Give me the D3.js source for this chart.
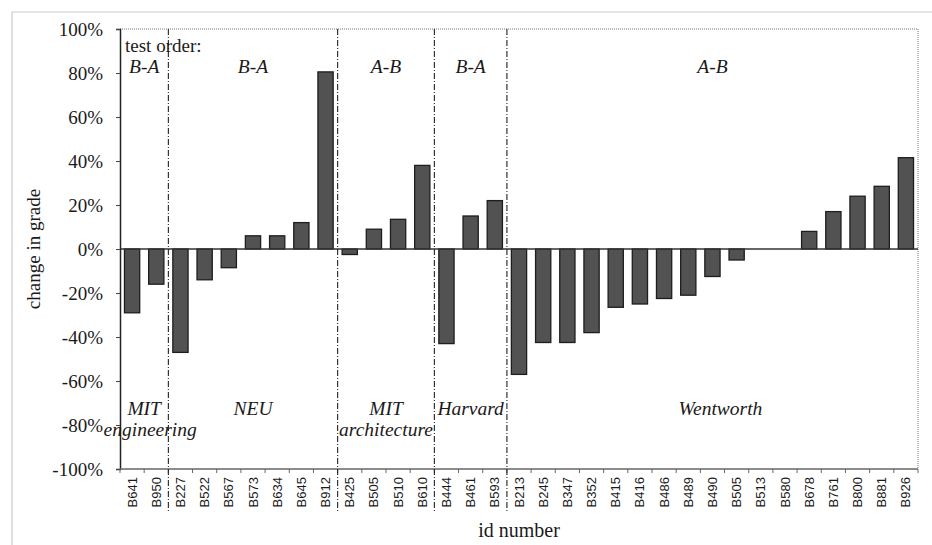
<!DOCTYPE html>
<html lang="en">
<head>
    <meta charset="UTF-8">
    <title>Change in grade by id number</title>
    <script src="https://d3js.org/d3.v7.min.js"></script>
    <style>
        body {
            margin: 0;
            background: #fff;
        }
        svg text {
            font-family: "Liberation Serif", "DejaVu Serif", serif;
            fill: #1a1a1a;
        }
        .tick-y {
            font-size: 19px;
        }
        .tick-x {
            font-family: "Liberation Sans", Arial, sans-serif !important;
            font-size: 13px;
        }
        .grp {
            font-style: italic;
            font-size: 19.5px;
        }
        .axis-title {
            font-size: 19px;
        }
    </style>
</head>
<body>
    <div id="chart"></div>

    <script>
        // data
        const ids = ["B641", "B950",
            "B227", "B522", "B567", "B573", "B634", "B645", "B912",
            "B425", "B505", "B510", "B610",
            "B444", "B461", "B593",
            "B213", "B245", "B347", "B352", "B415", "B416", "B486", "B489", "B490",
            "B505 ", "B513", "B580", "B678", "B761", "B800", "B881", "B926"];
        const changes = [-29, -16,
            -47, -14, -8.5, 6, 6, 12, 80.5,
            -2.5, 9, 13.5, 38,
            -43, 15, 22,
            -57, -42.5, -42.5, -38, -26.5, -25, -22.5, -21, -12.5,
            -5, 0, 0, 8, 17, 24, 28.5, 41.5];
        const groupNames = [["MIT", "engineering"], ["NEU"], ["MIT", "architecture"], ["Harvard"], ["Wentworth"]];
        const groupOrders = ["B-A", "B-A", "A-B", "B-A", "A-B"];
        const groupSizes = [2, 7, 4, 3, 17];
        const yTicks = [-100, -80, -60, -40, -20, 0, 20, 40, 60, 80, 100];

        const width = 932, height = 545;
        const margin = {left: 120, right: 14, top: 29, bottom: 76};

        const svg = d3.select("#chart").append("svg")
            .attr("width", width)
            .attr("height", height);

        // faint outer frame of the scanned figure
        svg.append("path")
            .attr("d", `M12,${height} L12,12 L${width},12`)
            .attr("fill", "none")
            .attr("stroke", "#ccc")
            .attr("stroke-width", 1.2);

        const x = d3.scaleBand()
            .domain(ids)
            .range([margin.left, width - margin.right])
            .paddingInner(0.37)
            .paddingOuter(0.185);

        const y = d3.scaleLinear()
            .domain([-100, 100])
            .range([height - margin.bottom, margin.top]);

        const step = x.step();
        const x0 = margin.left, x1 = width - margin.right;

        // dotted plot frame (top and right)
        svg.append("path")
            .attr("d", `M${x0},${y(100)} L${x1},${y(100)} L${x1},${y(-100)}`)
            .attr("fill", "none")
            .attr("stroke", "#777")
            .attr("stroke-dasharray", "1,1");

        // bars
        svg.selectAll("rect.bar")
            .data(ids)
            .enter().append("rect")
            .attr("class", "bar")
            .attr("x", d => x(d))
            .attr("width", x.bandwidth())
            .attr("y", (d, i) => y(Math.max(0, changes[i])))
            .attr("height", (d, i) => Math.abs(y(changes[i]) - y(0)))
            .attr("fill", "#525252")
            .attr("stroke", "#1e1e1e")
            .attr("stroke-width", 1.3);

        // zero line
        svg.append("line")
            .attr("x1", x0).attr("x2", x1)
            .attr("y1", y(0)).attr("y2", y(0))
            .attr("stroke", "#333")
            .attr("stroke-width", 1.3);

        // y axis
        const yAxis = svg.append("g")
            .attr("transform", `translate(${x0},0)`)
            .call(d3.axisLeft(y).tickValues(yTicks).tickFormat(d => d + "%").tickSize(4).tickPadding(13));
        yAxis.select(".domain").attr("stroke", "#222").attr("stroke-width", 1.5);
        yAxis.selectAll(".tick line").attr("stroke", "#444");
        yAxis.selectAll("text").attr("class", "tick-y").attr("fill", "#1a1a1a");

        // x axis: ticks sit on the band edges
        const xAxis = svg.append("g")
            .attr("transform", `translate(0,${y(-100)})`);
        xAxis.append("line")
            .attr("x1", x0).attr("x2", x1)
            .attr("stroke", "#666")
            .attr("stroke-width", 1.3);
        xAxis.selectAll("line.edge")
            .data(d3.range(ids.length + 1))
            .enter().append("line")
            .attr("class", "edge")
            .attr("x1", i => x0 + i * step).attr("x2", i => x0 + i * step)
            .attr("y1", 0).attr("y2", 4)
            .attr("stroke", "#666");
        xAxis.selectAll("text")
            .data(ids)
            .enter().append("text")
            .attr("class", "tick-x")
            .attr("transform", d => `translate(${x(d) + x.bandwidth() / 2 + 4.5},8) rotate(-90)`)
            .attr("text-anchor", "end")
            .text(d => d.trim());

        // group dividers and labels
        let start = 0;
        groupSizes.forEach((n, g) => {
            const cx = x0 + (start + n / 2) * step;
            if (start > 0) {
                svg.append("line")
                    .attr("x1", x0 + start * step).attr("x2", x0 + start * step)
                    .attr("y1", y(100)).attr("y2", y(-100) + 44)
                    .attr("stroke", "#222")
                    .attr("stroke-width", 1.1)
                    .attr("stroke-dasharray", "6,2,1,2");
            }
            svg.append("text")
                .attr("class", "grp")
                .attr("x", cx).attr("y", 73)
                .attr("text-anchor", "middle")
                .text(groupOrders[g]);
            groupNames[g].forEach((t, k) => {
                let dx = g === 4 ? 8 : 0;
                if (g === 0 && k === 1) dx = 6; // keep clear of the -80% label
                svg.append("text")
                    .attr("class", "grp")
                    .attr("x", cx + dx).attr("y", 415 + k * 21)
                    .attr("text-anchor", "middle")
                    .text(t);
            });
            start += n;
        });

        svg.append("text")
            .attr("class", "axis-title")
            .attr("x", x0 + 5).attr("y", 52)
            .text("test order:");

        svg.append("text")
            .attr("class", "axis-title")
            .attr("transform", `translate(40,${y(0)}) rotate(-90)`)
            .attr("text-anchor", "middle")
            .text("change in grade");

        svg.append("text")
            .attr("class", "axis-title")
            .attr("x", (x0 + x1) / 2).attr("y", 537)
            .attr("text-anchor", "middle")
            .style("font-size", "20px")
            .text("id number");
    </script>
</body>
</html>
